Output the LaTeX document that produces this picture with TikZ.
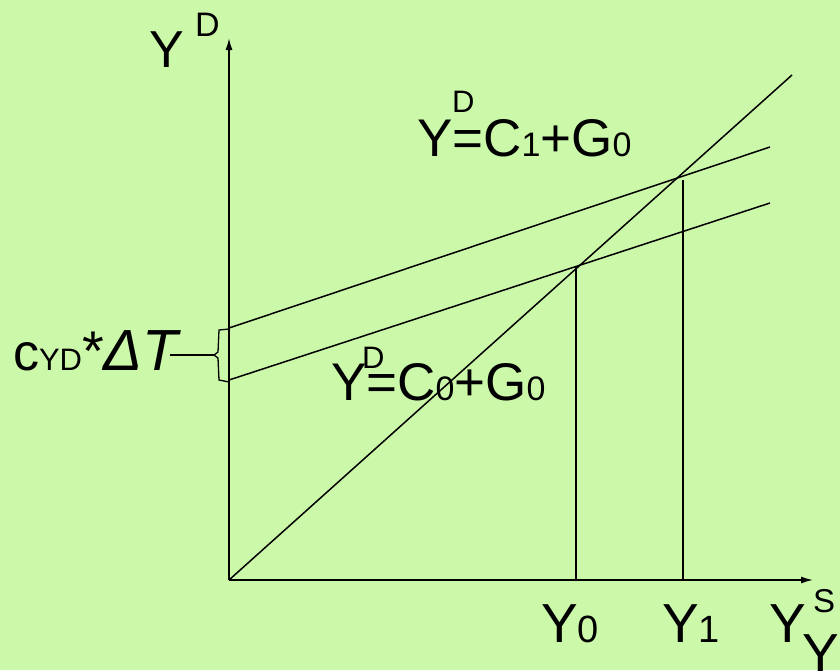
\documentclass[tikz,border=0pt]{standalone}
\usepackage{fontspec}
\setmainfont{Liberation Sans}
\usetikzlibrary{arrows.meta}
\definecolor{paper}{RGB}{204,248,170}
\newcommand{\fs}[1]{\fontsize{#1}{#1}\selectfont}

\begin{document}
\begin{tikzpicture}[x=1pt,y=-1pt,line width=1.5pt,>={Latex[length=12pt,width=7pt]},
  lbl/.style={anchor=base west,inner sep=0pt,outer sep=0pt}]
\fill[paper] (0,0) rectangle (840,670);
\useasboundingbox (0,0) rectangle (840,670);
% axes
\coordinate (O) at (229,580);
\coordinate (ytop) at (229,38);
\coordinate (xend) at (813,580);
\draw[->] (O)--(ytop);
\draw[->] (O)--(xend);
% 45 degree line and the two demand lines
\coordinate (diag) at (792,75);
\draw (O)--(diag);
\coordinate (d1a) at (229,328);\coordinate (d1b) at (770,147);
\coordinate (d0a) at (229,380);\coordinate (d0b) at (770,203);
\draw (d1a)--(d1b);
\draw (d0a)--(d0b);
% equilibria
\coordinate (y0) at (576,580);\coordinate (e0) at (576,267);
\coordinate (y1) at (683,580);\coordinate (e1) at (683,180);
\draw (y0)--(e0);
\draw (y1)--(e1);
% brace for the shift
\coordinate (btip) at (214,355);\coordinate (bend) at (170,355);
\draw[line width=1.3pt] (229,329)--(219,330)--(218,352)--(btip)--(218,358)--(219,380)--(229,382);
\draw[line width=1.3pt] (btip)--(bend);
% labels
\node[lbl] (ly) at (149,67){\fs{52}Y};
\node[lbl] (lyd) at (195,36){\fs{34}D};
\node[lbl] (f1) at (417,156){\fs{53}Y=C{\fs{34}1}+G{\fs{34}0}};
\node[lbl] (f1d) at (452,112){\fs{31}D};
\node[lbl] (f0) at (331,400){\fs{53}Y=C{\fs{34}0}+G{\fs{34}0}};
\node[lbl] (f0d) at (362,368){\fs{31}D};
\node[lbl] (dt) at (13,370){\fs{52}c{\fs{31}YD}{\fs{56}*}\fs{58}\itshape{}ΔT};
\node[lbl] (ly0) at (541,642){\fs{55}Y{\fs{38}0}};
\node[lbl] (ly1) at (662,642){\fs{55}Y{\fs{38}1}};
\node[lbl] (lys) at (769,642){\fs{55}Y};
\node[lbl] (lyss) at (813,612){\fs{33}S};
\node[lbl] (lyy) at (802,672){\fs{55}Y};
\end{tikzpicture}
\end{document}
